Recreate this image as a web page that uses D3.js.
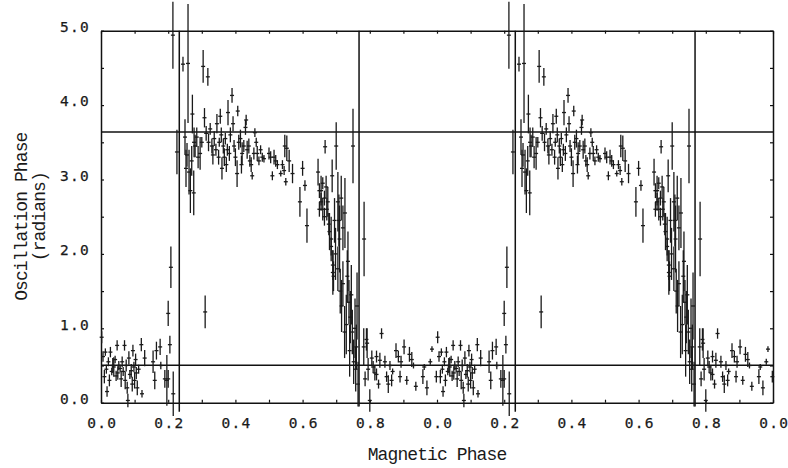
<!DOCTYPE html>
<html>
<head>
<meta charset="utf-8">
<script src="https://cdn.jsdelivr.net/npm/d3@7"></script>
<style>
  body { margin: 0; background: #fff; }
  svg { display: block; }
  .tick text { font-family: "DejaVu Sans Mono", monospace; font-size: 14.5px; letter-spacing: 1.3px; fill: #1a1a1a; stroke: #1a1a1a; stroke-width: 0.25px; }
  .title { font-family: "Liberation Mono", "Courier New", monospace; font-size: 18px; letter-spacing: -0.9px; fill: #1a1a1a; }
</style>
</head>
<body>
<div id="container"></div>
<script>
// [magnetic phase, oscillation phase, half error] -- one cycle, drawn twice
var lowLeft = [
  [0.002,0.88,0.08],[0.006,0.62,0.07],[0.01,0.35,0.09],[0.013,0.68,0.05],[0.016,0.45,0.06],
  [0.018,0.15,0.07],[0.022,0.55,0.06],[0.025,0.3,0.08],[0.028,0.68,0.07],[0.032,0.42,0.05],
  [0.035,0.5,0.1],[0.038,0.48,0.13],[0.042,0.58,0.05],[0.045,0.36,0.07],[0.048,0.77,0.07],
  [0.05,0.4,0.09],[0.053,0.5,0.06],[0.057,0.46,0.05],[0.06,0.32,0.11],[0.063,0.55,0.07],
  [0.066,0.42,0.06],[0.07,0.77,0.07],[0.072,0.3,0.12],[0.075,0.5,0.08],[0.078,0.2,0.08],
  [0.08,0.03,0.09],[0.083,0.6,0.09],[0.086,0.38,0.06],[0.09,0.43,0.09],[0.093,0.25,0.1],
  [0.095,0.7,0.08],[0.098,0.48,0.07],[0.1,0.3,0.11],[0.103,0.58,0.08],[0.105,0.4,0.08],
  [0.108,0.2,0.1],[0.112,0.45,0.06],[0.12,0.78,0.09],[0.122,0.12,0.05],[0.13,0.6,0.11],
  [0.155,0.55,0.15],[0.16,0.3,0.12],[0.165,0.7,0.12],[0.176,0.75,0.11],[0.178,0.5,0.05],
  [0.19,0.32,0.12],[0.196,0.3,0.34],[0.2,0.32,0.12],[0.2,1.2,0.17],[0.205,0.78,0.12],
  [0.208,1.82,0.28],[0.215,0.12,0.3]
];
var rise = [
  [0.214,4.94,0.45],[0.226,3.37,0.3],[0.244,4.55,0.1],[0.25,3.57,0.24],[0.253,3.15,0.25],
  [0.256,3.33,0.16],[0.259,4.56,0.8],[0.262,3.1,0.3],[0.266,2.85,0.3],[0.27,3.25,0.2],
  [0.272,3.88,0.26],[0.276,2.82,0.3],[0.277,3.5,0.2],[0.28,3.45,0.15],[0.285,3.57,0.13],
  [0.289,3.3,0.15],[0.295,3.35,0.22],[0.3,3.5,0.07],[0.304,4.52,0.22],[0.308,3.83,0.13],
  [0.31,1.22,0.22],[0.313,3.62,0.1],[0.318,4.38,0.12],[0.32,3.5,0.12],[0.325,3.68,0.08],
  [0.33,3.45,0.1]
];
var plateau = [
  [0.333,3.33,0.13],[0.337,3.55,0.1],[0.342,3.4,0.08],[0.345,3.75,0.13],[0.35,3.3,0.1],
  [0.352,3.5,0.06],[0.355,3.85,0.1],[0.358,3.6,0.1],[0.36,3.15,0.15],[0.364,3.45,0.1],
  [0.367,3.3,0.12],[0.37,3.55,0.08],[0.373,3.2,0.1],[0.376,3.4,0.08],[0.378,3.9,0.17],
  [0.382,3.35,0.1],[0.385,3.6,0.1],[0.39,4.13,0.1],[0.393,3.75,0.1],[0.396,3.45,0.08],
  [0.4,3.3,0.12],[0.405,3.08,0.18],[0.407,3.92,0.07],[0.41,3.5,0.1],[0.415,3.55,0.12],
  [0.418,3.2,0.12],[0.42,3.35,0.15],[0.425,3.45,0.08],[0.43,3.7,0.1],[0.432,3.8,0.07],
  [0.435,3.4,0.12],[0.44,3.45,0.1],[0.443,3.25,0.08],[0.447,3.2,0.1],[0.45,3.05,0.05],
  [0.455,3.35,0.08],[0.458,3.63,0.06],[0.462,3.5,0.06],[0.465,3.35,0.1],[0.47,3.25,0.06],
  [0.475,3.4,0.06],[0.48,3.3,0.06],[0.485,3.28,0.05],[0.5,3.35,0.08],[0.505,3.3,0.08],
  [0.51,3.05,0.06],[0.515,3.3,0.1],[0.52,3.25,0.08],[0.525,3.2,0.06],[0.535,3.08,0.04],
  [0.54,3.2,0.06],[0.545,3.12,0.06],[0.547,3.45,0.15],[0.55,2.97,0.05],[0.553,3.42,0.17],
  [0.56,3.25,0.15],[0.57,3.08,0.13],[0.592,2.7,0.2],[0.6,3.15,0.1],[0.607,2.92,0.07],
  [0.613,2.38,0.23]
];
var descent = [
  [0.646,3.1,0.18],[0.65,2.6,0.1],[0.65,2.85,0.1],[0.655,2.7,0.12],[0.655,2.85,0.2],
  [0.66,2.6,0.15],[0.66,2.95,0.08],[0.665,2.5,0.12],[0.665,2.75,0.1],[0.667,3.44,0.09],
  [0.67,2.9,0.15],[0.672,2.6,0.15],[0.675,2.7,0.2],[0.678,2.4,0.15],[0.68,2.3,0.25],
  [0.685,2.1,0.12],[0.685,2.2,0.3],[0.688,3.05,0.22],[0.69,1.85,0.2],[0.69,1.75,0.3],
  [0.692,1.7,0.2],[0.695,2.45,0.3],[0.698,2.0,0.35],[0.7,3.45,0.32],[0.705,2.7,0.4],
  [0.705,1.8,0.3],[0.708,2.45,0.35],[0.71,2.2,0.45],[0.712,1.5,0.3],[0.715,2.75,0.3],
  [0.716,1.3,0.35],[0.72,2.35,0.3],[0.72,1.6,0.3],[0.725,0.95,0.35],[0.726,2.55,0.47],
  [0.73,1.05,0.4],[0.733,1.7,0.35],[0.735,1.9,0.4],[0.738,1.35,0.3],[0.74,0.7,0.35],
  [0.742,1.15,0.35],[0.745,1.45,0.4],[0.748,0.95,0.3],[0.75,3.45,0.5],[0.752,0.55,0.3],
  [0.756,1.0,0.4],[0.758,0.45,0.3],[0.76,0.75,0.3],[0.762,1.3,0.45],[0.765,0.25,0.3],
  [0.782,0.75,0.25],[0.783,2.2,0.5]
];
var lowRight = [
  [0.786,0.32,0.1],[0.79,0.85,0.15],[0.792,0.8,0.2],[0.795,0.45,0.15],[0.8,0.03,0.15],
  [0.806,0.6,0.1],[0.81,0.48,0.08],[0.815,0.4,0.1],[0.82,0.38,0.08],[0.82,0.62,0.08],
  [0.826,0.25,0.06],[0.83,0.57,0.1],[0.835,0.93,0.07],[0.845,0.55,0.08],[0.85,0.35,0.07],
  [0.855,0.25,0.12],[0.86,0.5,0.06],[0.865,0.3,0.08],[0.868,0.42,0.04],[0.878,0.7,0.1],
  [0.885,0.62,0.08],[0.89,0.35,0.08],[0.893,0.55,0.08],[0.902,0.75,0.1],[0.91,0.3,0.06],
  [0.918,0.65,0.1],[0.925,0.58,0.1],[0.93,0.5,0.04],[0.937,0.22,0.06],[0.958,0.35,0.1],
  [0.962,0.48,0.04],[0.97,0.2,0.1],[0.98,0.55,0.04],[0.985,0.72,0.04],[0.998,0.35,0.08]
];

var cycles = [0, 1];
var refLevels = [3.64, 0.505];
var refPhases = [[0.233, -0.12], [0.768, -0.05], [1.233, -0.12], [1.768, -0.05]];
var xTicks = d3.range(0, 21).map(function(i) { return i / 10; });
var yTicks = d3.range(0, 11).map(function(i) { return i / 2; });

var width = 788, height = 468;
var x = d3.scaleLinear().domain([0, 2]).range([101, 773]);
var y = d3.scaleLinear().domain([0, 5]).range([402.7, 30.7]);

var svg = d3.select("#container").append("svg")
    .attr("width", width)
    .attr("height", height);

function styleAxis(g) {
    g.select(".domain").attr("stroke", "#111").attr("stroke-width", 1.5);
    g.selectAll(".tick line").attr("stroke", "#111").attr("stroke-width", 1.2);
}

svg.append("g")
    .attr("transform", "translate(0," + y(0) + ")")
    .call(d3.axisBottom(x).tickValues(xTicks).tickSize(-3).tickSizeOuter(0).tickPadding(15)
        .tickFormat(function(d, i) { return i % 2 ? "" : (d % 1).toFixed(1); }))
    .call(styleAxis)
    .selectAll(".tick text").attr("dx", "0.7px");

svg.append("g")
    .attr("transform", "translate(0," + y(5) + ")")
    .call(d3.axisTop(x).tickValues(xTicks).tickSize(-3).tickSizeOuter(0).tickFormat(""))
    .call(styleAxis);

svg.append("g")
    .attr("transform", "translate(" + x(0) + ",0)")
    .call(d3.axisLeft(y).tickValues(yTicks).tickSize(-3).tickSizeOuter(0).tickPadding(11)
        .tickFormat(function(d) { return d % 1 ? "" : d.toFixed(1); }))
    .call(styleAxis)
    .selectAll(".tick text").attr("dy", "0.05em");

svg.append("g")
    .attr("transform", "translate(" + x(2) + ",0)")
    .call(d3.axisRight(y).tickValues(yTicks).tickSize(-3).tickSizeOuter(0).tickFormat(""))
    .call(styleAxis);

svg.selectAll(".tick text").attr("font-family", null).attr("font-size", null);

// reference lines
svg.selectAll("line.level")
    .data(refLevels)
    .enter().append("line")
    .attr("class", "level")
    .attr("x1", x(0)).attr("x2", x(2))
    .attr("y1", function(d) { return y(d); })
    .attr("y2", function(d) { return y(d); })
    .attr("stroke", "#111")
    .attr("stroke-width", 1.5);

svg.selectAll("line.cut")
    .data(refPhases)
    .enter().append("line")
    .attr("class", "cut")
    .attr("x1", function(d) { return x(d[0]); })
    .attr("x2", function(d) { return x(d[0]); })
    .attr("y1", y(5))
    .attr("y2", function(d) { return y(d[1]); })
    .attr("stroke", "#111")
    .attr("stroke-width", 1.5);

// data points with error bars, repeated for both cycles
var points = [];
[lowLeft, rise, plateau, descent, lowRight].forEach(function(set) {
    cycles.forEach(function(k) {
        set.forEach(function(d) {
            points.push({ p: d[0] + k, v: d[1], e: d[2] });
        });
    });
});

var marks = svg.append("g").attr("stroke", "#1a1a1a").attr("stroke-width", 1.3);

marks.selectAll("line.bar")
    .data(points)
    .enter().append("line")
    .attr("class", "bar")
    .attr("x1", function(d) { return x(d.p); })
    .attr("x2", function(d) { return x(d.p); })
    .attr("y1", function(d) { return y(d.v - d.e); })
    .attr("y2", function(d) { return y(d.v + d.e); });

marks.selectAll("line.cap")
    .data(points)
    .enter().append("line")
    .attr("class", "cap")
    .attr("x1", function(d) { return x(d.p) - 2; })
    .attr("x2", function(d) { return x(d.p) + 2; })
    .attr("y1", function(d) { return y(d.v); })
    .attr("y2", function(d) { return y(d.v); });

// titles
svg.append("text")
    .attr("class", "title")
    .attr("x", (x(0) + x(2)) / 2)
    .attr("y", 460)
    .attr("text-anchor", "middle")
    .text("Magnetic Phase");

svg.append("text")
    .attr("class", "title")
    .attr("transform", "translate(27," + y(2.5) + ") rotate(-90)")
    .attr("text-anchor", "middle")
    .text("Oscillation Phase");

svg.append("text")
    .attr("class", "title")
    .attr("transform", "translate(45," + y(2.5) + ") rotate(-90)")
    .attr("text-anchor", "middle")
    .text("(radians)");
</script>
</body>
</html>
